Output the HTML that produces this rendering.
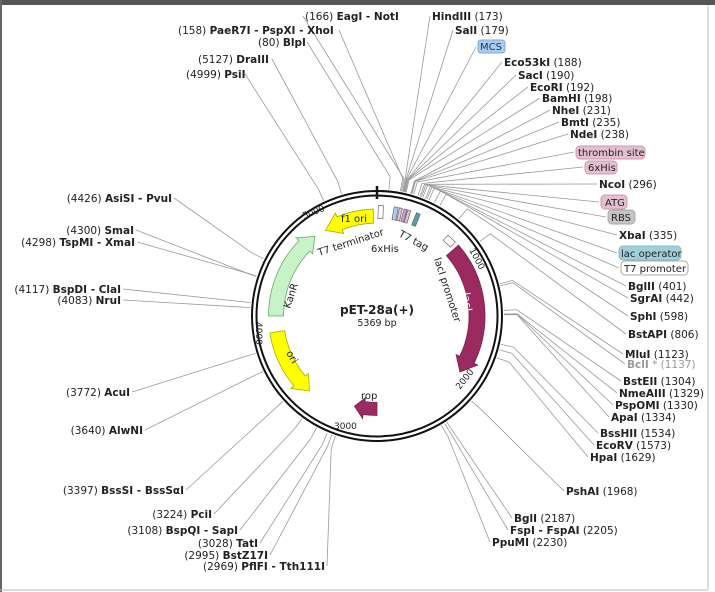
<!DOCTYPE html>
<html><head><meta charset="utf-8"><style>
html,body{margin:0;padding:0;background:#fff;}
svg{display:block;}
text{font-family:"DejaVu Sans","Liberation Sans",sans-serif;font-size:10.5px;fill:#222;}
.b{font-weight:bold;}
</style></head><body>
<svg id="s" width="715" height="592" viewBox="0 0 715 592" xmlns="http://www.w3.org/2000/svg">
<rect x="0" y="0" width="715" height="592" fill="#fff"/>
<rect x="0" y="0" width="715" height="5" fill="#555"/>
<rect x="0" y="0" width="2" height="592" fill="#666"/>
<line x1="708" y1="5" x2="708" y2="590" stroke="#bbb" stroke-width="1"/>
<line x1="0" y1="590" x2="708" y2="590" stroke="#bbb" stroke-width="1"/>
<g id="lines" stroke="#999" stroke-width="0.8" fill="none"></g>

<circle cx="377" cy="316" r="125" fill="none" stroke="#111" stroke-width="2"/>
<circle cx="377" cy="316" r="120.5" fill="none" stroke="#111" stroke-width="2"/>
<line x1="377" y1="186" x2="377" y2="199" stroke="#111" stroke-width="2.5"/>

<g id="feat"></g>

<text x="377" y="314" text-anchor="middle" class="b" style="font-size:12px">pET-28a(+)</text>
<text x="377" y="326" text-anchor="middle" style="font-size:9.5px">5369 bp</text>
<text transform="translate(319,256) rotate(-18)" style="font-size:10px">T7 terminator</text>
<text x="371" y="252" style="font-size:10px">6xHis</text>
<text transform="translate(398,236) rotate(28)" style="font-size:10px">T7 tag</text>
<text transform="translate(434,259) rotate(72)" style="font-size:10px">lacI promoter</text>
<text transform="translate(462,293) rotate(82)" style="font-size:11px;fill:#fff">lacI</text>
<text transform="translate(290,309) rotate(-72)" style="font-size:10px">KanR</text>
<text transform="translate(286,353) rotate(60)" style="font-size:10px">ori</text>
<text x="341" y="222" style="font-size:10px">f1 ori</text>
<text x="361" y="399" style="font-size:10px">rop</text>
<text transform="translate(469,250) rotate(62)" style="font-size:9px">1000</text>
<text transform="translate(460,390) rotate(-52)" style="font-size:9px">2000</text>
<text x="334" y="429" style="font-size:9px">3000</text>
<text transform="translate(256,322) rotate(90)" style="font-size:9px">4000</text>
<text transform="translate(304,219) rotate(-22)" style="font-size:9px">5000</text>

<text x="305" y="20">(166) <tspan class="b">EagI - NotI</tspan></text>
<text x="432" y="20"><tspan class="b">HindIII</tspan> (173)</text>
<text x="178" y="34">(158) <tspan class="b">PaeR7I - PspXI - XhoI</tspan></text>
<text x="455" y="34"><tspan class="b">SalI</tspan> (179)</text>
<text x="258" y="46">(80) <tspan class="b">BlpI</tspan></text>
<rect x="478" y="40" width="27" height="13" rx="3" fill="#a9cdf2" stroke="#8ab"/>
<text x="480" y="50" style="fill:#235;font-size:10px">MCS</text>
<text x="198" y="63">(5127) <tspan class="b">DraIII</tspan></text>
<text x="504" y="66"><tspan class="b">Eco53kI</tspan> (188)</text>
<text x="186" y="78">(4999) <tspan class="b">PsiI</tspan></text>
<text x="518" y="79"><tspan class="b">SacI</tspan> (190)</text>
<text x="530" y="91"><tspan class="b">EcoRI</tspan> (192)</text>
<text x="542" y="102"><tspan class="b">BamHI</tspan> (198)</text>
<text x="552" y="114"><tspan class="b">NheI</tspan> (231)</text>
<text x="561" y="126"><tspan class="b">BmtI</tspan> (235)</text>
<text x="570" y="138"><tspan class="b">NdeI</tspan> (238)</text>
<rect x="576" y="146" width="69" height="13" rx="4" fill="#e4bfd2" stroke="#c9a"/>
<text x="578" y="156" style="font-size:10px">thrombin site</text>
<rect x="585" y="161" width="32" height="13" rx="4" fill="#e4bfd2" stroke="#c9a"/>
<text x="588" y="171" style="font-size:10px">6xHis</text>
<text x="599" y="188"><tspan class="b">NcoI</tspan> (296)</text>
<rect x="601" y="195" width="26" height="14" rx="4" fill="#e4bfd2" stroke="#c9a"/>
<text x="605" y="206" style="font-size:10px">ATG</text>
<rect x="608" y="210" width="27" height="14" rx="4" fill="#c4c4c4" stroke="#aaa"/>
<text x="611" y="221" style="font-size:10px">RBS</text>
<text x="619" y="239"><tspan class="b">XbaI</tspan> (335)</text>
<rect x="619" y="246" width="62" height="14" rx="4" fill="#9fcfd8" stroke="#8bb"/>
<text x="621" y="257" style="font-size:10px">lac operator</text>
<rect x="621" y="261" width="67" height="14" rx="4" fill="#fff" stroke="#aaa"/>
<text x="624" y="272" style="font-size:10px">T7 promoter</text>
<text x="628" y="290"><tspan class="b">BglII</tspan> (401)</text>
<text x="630" y="302"><tspan class="b">SgrAI</tspan> (442)</text>
<text x="630" y="320"><tspan class="b">SphI</tspan> (598)</text>
<text x="628" y="338"><tspan class="b">BstAPI</tspan> (806)</text>
<text x="625" y="358"><tspan class="b">MluI</tspan> (1123)</text>
<text x="627" y="368" style="fill:#999"><tspan class="b" style="fill:#999">BclI</tspan> * (1137)</text>
<text x="623" y="385"><tspan class="b">BstEII</tspan> (1304)</text>
<text x="619" y="397"><tspan class="b">NmeAIII</tspan> (1329)</text>
<text x="615" y="409"><tspan class="b">PspOMI</tspan> (1330)</text>
<text x="611" y="421"><tspan class="b">ApaI</tspan> (1334)</text>
<text x="600" y="437"><tspan class="b">BssHII</tspan> (1534)</text>
<text x="596" y="449"><tspan class="b">EcoRV</tspan> (1573)</text>
<text x="590" y="461"><tspan class="b">HpaI</tspan> (1629)</text>
<text x="566" y="495"><tspan class="b">PshAI</tspan> (1968)</text>
<text x="514" y="522"><tspan class="b">BglI</tspan> (2187)</text>
<text x="510" y="534"><tspan class="b">FspI - FspAI</tspan> (2205)</text>
<text x="492" y="546"><tspan class="b">PpuMI</tspan> (2230)</text>

<text x="172" y="202" text-anchor="end">(4426) <tspan class="b">AsiSI - PvuI</tspan></text>
<text x="134" y="234" text-anchor="end">(4300) <tspan class="b">SmaI</tspan></text>
<text x="135" y="246" text-anchor="end">(4298) <tspan class="b">TspMI - XmaI</tspan></text>
<text x="121" y="293" text-anchor="end">(4117) <tspan class="b">BspDI - ClaI</tspan></text>
<text x="121" y="304" text-anchor="end">(4083) <tspan class="b">NruI</tspan></text>
<text x="130" y="396" text-anchor="end">(3772) <tspan class="b">AcuI</tspan></text>
<text x="143" y="434" text-anchor="end">(3640) <tspan class="b">AlwNI</tspan></text>
<text x="184" y="494" text-anchor="end">(3397) <tspan class="b">BssSI - BssSαI</tspan></text>
<text x="212" y="518" text-anchor="end">(3224) <tspan class="b">PciI</tspan></text>
<text x="238" y="534" text-anchor="end">(3108) <tspan class="b">BspQI - SapI</tspan></text>
<text x="258" y="547" text-anchor="end">(3028) <tspan class="b">TatI</tspan></text>
<text x="268" y="559" text-anchor="end">(2995) <tspan class="b">BstZ17I</tspan></text>
<text x="325" y="570" text-anchor="end">(2969) <tspan class="b">PflFI - Tth111I</tspan></text>
</svg>
<script>
(function(){
var cx=377,cy=316,N=5369,NS="http://www.w3.org/2000/svg";
function pt(a,r){var t=a*Math.PI/180;return [cx+r*Math.sin(t),cy-r*Math.cos(t)];}
function ang(bp){return bp/N*360;}
var L=[[303,16,166],[430,16,173],[339,30,158],[453,30,179],[307,42,80],[476,47,183],[272,59,5127],[502,62,188],[245,74,4999],[516,75,190],[528,87,192],[540,98,198],[550,110,231],[559,122,235],[568,134,238],[574,152,250],[583,167,280],[597,184,296],[599,202,305],[606,217,315],[617,235,335],[617,253,345],[619,268,360],[626,286,401],[628,298,442],[628,316,598],[626,334,806],[623,354,1123],[625,364,1137],[621,381,1304],[617,393,1329],[613,405,1330],[609,417,1334],[598,433,1534],[594,445,1573],[588,457,1629],[564,491,1968],[512,518,2187],[508,530,2205],[490,542,2230],
[174,198,4426],[136,230,4300],[137,242,4298],[123,289,4117],[123,300,4083],[132,392,3772],[145,430,3640],[186,490,3397],[214,514,3224],[240,530,3108],[260,543,3028],[270,555,2995],[327,566,2969]];
var g=document.getElementById('lines');
L.forEach(function(l){var p=pt(ang(l[2]),127);var q=pt(ang(l[2]),140);
var e=document.createElementNS(NS,'polyline');
e.setAttribute('points',p[0]+','+p[1]+' '+q[0]+','+q[1]+' '+l[0]+','+l[1]);g.appendChild(e);});
var f=document.getElementById('feat');
function arrow(a1,a2,r,w,fill,stroke,hd){
 var dir=a2>a1?1:-1, head=hd, ab=a2-dir*head;
 var ro=r+w/2,ri=r-w/2,big=Math.abs(ab-a1)>180?1:0,sw=dir>0?1:0;
 var p1=pt(a1,ro),p2=pt(ab,ro),p3=pt(ab,ro+4),p4=pt(a2,r),p5=pt(ab,ri-4),p6=pt(ab,ri),p7=pt(a1,ri);
 var d='M'+p1+' A'+ro+','+ro+' 0 '+big+' '+sw+' '+p2+' L'+p3+' L'+p4+' L'+p5+' L'+p6+' A'+ri+','+ri+' 0 '+big+' '+(1-sw)+' '+p7+' Z';
 var e=document.createElementNS(NS,'path');
 e.setAttribute('d',d);e.setAttribute('fill',fill);e.setAttribute('stroke',stroke);e.setAttribute('stroke-width','0.8');f.appendChild(e);}
arrow(49,124,100,16,'#9b2a61','#7a1f4c',8);
arrow(270,322,101,15,'#c8f2c8','#6a6',8);
arrow(261,222,101,15,'#ffff00','#aa0',8);
arrow(358,329,100,14,'#ffff00','#aa0',9);
arrow(180,194,93,13,'#9b2a61','#7a1f4c',6);
function box(a,r,w,h,fill){var p=pt(a,r);var e=document.createElementNS(NS,'rect');
 e.setAttribute('x',-w/2);e.setAttribute('y',-h/2);e.setAttribute('width',w);e.setAttribute('height',h);
 e.setAttribute('fill',fill);e.setAttribute('stroke','#555');e.setAttribute('stroke-width','0.6');
 e.setAttribute('transform','translate('+p[0]+','+p[1]+') rotate('+a+')');f.appendChild(e);}
box(2,104,5,13,'#fff');box(10,104,4,13,'#a9cdf2');box(12.5,104,3,13,'#e4bfd2');box(15,104,3,13,'#c9a0d0');box(17,104,3,13,'#e4bfd2');box(22,104,4,13,'#5aa0a8');box(44,104,10,7,'#fff');
})();
</script>
</body></html>
